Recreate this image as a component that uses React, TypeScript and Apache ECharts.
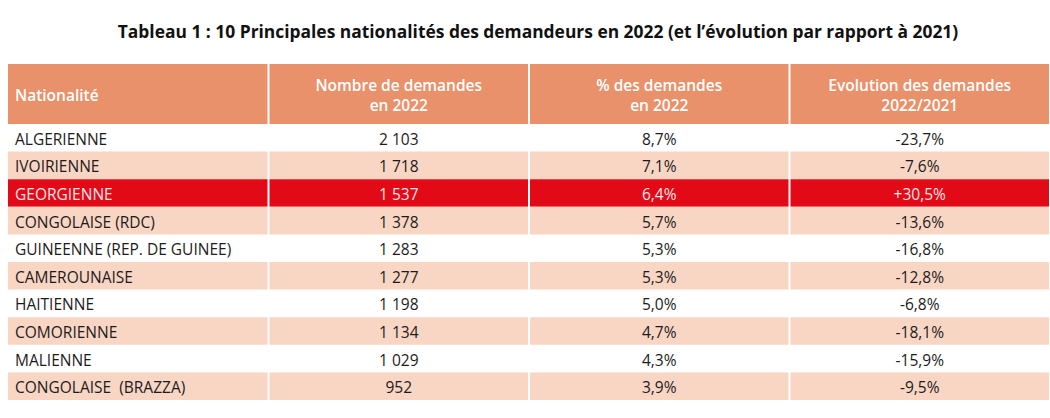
import React, { useEffect, useRef } from "react";
import * as echarts from "echarts";

const titleText =
  "Tableau 1 : 10 Principales nationalités des demandeurs en 2022 (et l\u2019évolution par rapport à 2021)";
const headerLabels = [
  "Nationalité",
  "Nombre de demandes\nen 2022",
  "% des demandes\nen 2022",
  "Evolution des demandes\n2022/2021",
];
const nationalities = [
  "ALGERIENNE",
  "IVOIRIENNE",
  "GEORGIENNE",
  "CONGOLAISE (RDC)",
  "GUINEENNE (REP. DE GUINEE)",
  "CAMEROUNAISE",
  "HAITIENNE",
  "COMORIENNE",
  "MALIENNE",
  "CONGOLAISE  (BRAZZA)",
];
const demandes = [2103, 1718, 1537, 1378, 1283, 1277, 1198, 1134, 1029, 952];
const partPct = [8.7, 7.1, 6.4, 5.7, 5.3, 5.3, 5.0, 4.7, 4.3, 3.9];
const evolutionPct = [-23.7, -7.6, 30.5, -13.6, -16.8, -12.8, -6.8, -18.1, -15.9, -9.5];
const highlighted = "GEORGIENNE";

const FONT = "'Open Sans', Lato, sans-serif";
const C_HEADER = "#E9916B";
const C_LIGHT = "#F9D5C4";
const C_RED = "#E20A17";

const fmtInt = (v: number) => {
  const s = String(v);
  return s.length > 3 ? s.slice(0, s.length - 3) + " " + s.slice(-3) : s;
};
const fmtPct = (v: number, sign = false) =>
  (sign && v > 0 ? "+" : "") + v.toFixed(1).replace(".", ",") + "%";

export default function App() {
  const ref = useRef<HTMLDivElement>(null);
  useEffect(() => {
    if (!ref.current) return;
    const chart = echarts.init(ref.current, undefined, { renderer: "svg" });
    const columns = ["nat", "dem", "pct", "evo"];
    const cellTexts = nationalities.map((n, i) => [
      n,
      fmtInt(demandes[i]),
      fmtPct(partPct[i]),
      fmtPct(evolutionPct[i], true),
    ]);

    const renderRow = (params: any, api: any) => {
      const row = api.value(0);
      const isHeader = params.seriesIndex === 0;
      const size = api.size([1, 1]);
      const w = size[0];
      const h = size[1];
      const children: any[] = [];
      let fill = "#ffffff";
      let textColor = "#1c1c1c";
      if (isHeader) {
        fill = C_HEADER;
        textColor = "#ffffff";
      } else if (nationalities[row] === highlighted) {
        fill = C_RED;
        textColor = "#fde6e6";
      } else if (row % 2 === 1) {
        fill = C_LIGHT;
      }
      for (let c = 0; c < columns.length; c++) {
        const center = api.coord([c, row]);
        const x0 = center[0] - w / 2;
        const y0 = center[1] - h / 2;
        if (fill !== "#ffffff") {
          children.push({
            type: "rect",
            shape: { x: x0 + (c === 0 ? 0 : 1), y: y0, width: w - (c === 0 ? 1 : 2), height: h },
            style: { fill },
          });
        }
        const txt = isHeader ? headerLabels[c] : cellTexts[row][c];
        children.push({
          type: "text",
          x: c === 0 ? x0 + 7 : center[0],
          y: center[1] + 1,
          style: {
            text: txt,
            fill: textColor,
            font: isHeader ? `600 15.5px ${FONT}` : `15.5px ${FONT}`,
            align: c === 0 ? "left" : "center",
            verticalAlign: "middle",
            lineHeight: 20,
          },
        });
      }
      return { type: "group", children };
    };

    chart.setOption({
      animation: false,
      graphic: [
        {
          type: "text",
          x: 538,
          y: 31,
          style: {
            text: titleText,
            font: `bold 17.4px ${FONT}`,
            fill: "#111",
            align: "center",
            verticalAlign: "middle",
          },
        },
      ],
      grid: [
        { left: 8, top: 64, width: 1058, height: 60 },
        { left: 8, top: 124, width: 1058, height: 276 },
      ],
      xAxis: [
        { type: "category", data: columns, gridIndex: 0, show: false },
        { type: "category", data: columns, gridIndex: 1, show: false },
      ],
      yAxis: [
        { type: "category", data: ["header"], gridIndex: 0, show: false },
        { type: "category", data: nationalities, gridIndex: 1, inverse: true, show: false },
      ],
      series: [
        {
          type: "custom",
          xAxisIndex: 0,
          yAxisIndex: 0,
          data: [[0]],
          renderItem: renderRow,
          clip: false,
        },
        {
          type: "custom",
          xAxisIndex: 1,
          yAxisIndex: 1,
          data: nationalities.map((_, i) => [i]),
          renderItem: renderRow,
          clip: false,
        },
      ],
    });
    return () => chart.dispose();
  }, []);
  return (
    <div
      ref={ref}
      style={{ position: "fixed", left: 0, top: 0, width: 1050, height: 418, background: "#fff" }}
    />
  );
}
